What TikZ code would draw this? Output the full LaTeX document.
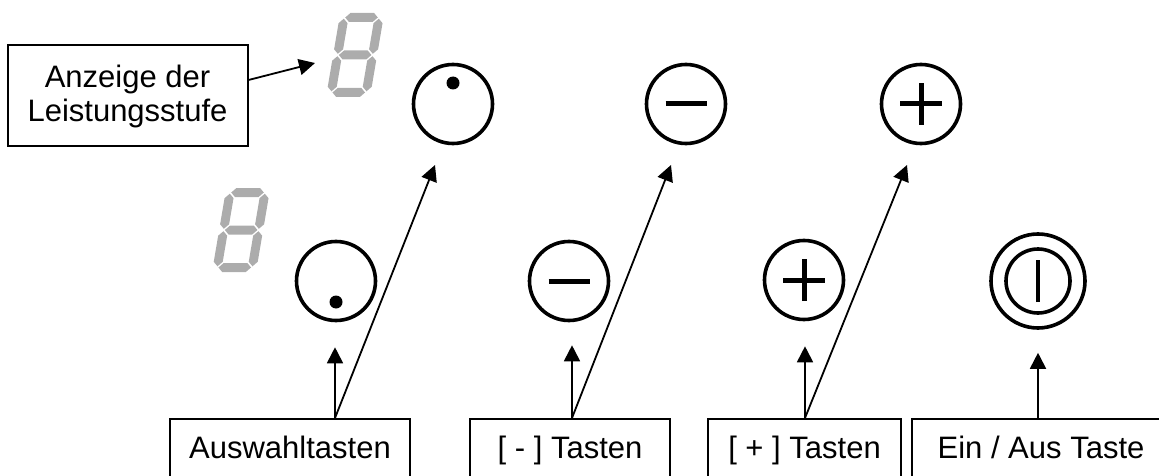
\documentclass[tikz,border=0pt]{standalone}
\usepackage{fontspec}
\setmainfont{Liberation Sans}
\usetikzlibrary{arrows.meta}
\definecolor{segcol}{RGB}{172,172,172}
\newcommand\hsegm[3]{\fill[segcol] (#1,#3) -- ({#1+4.5},{#3+4.5}) -- ({#2-4.5},{#3+4.5}) -- (#2,#3) -- ({#2-4.5},{#3-4.5}) -- ({#1+4.5},{#3-4.5}) -- cycle;}
\newcommand\vsegm[3]{\fill[segcol] (#1,#2) -- ({#1+4.5},{#2+4.5}) -- ({#1+4.5},{#3-4.5}) -- (#1,#3) -- ({#1-4.5},{#3-4.5}) -- ({#1-4.5},{#2+4.5}) -- cycle;}
\newcommand\segdigit[2]{\begin{scope}[shift={(#1,#2)}, y=1pt, xslant=0.17]
 \hsegm{5.7}{38.3}{79.5}\hsegm{5.7}{38.3}{42}\hsegm{5.7}{38.3}{4.5}
 \vsegm{4.5}{43.2}{78.3}\vsegm{4.5}{5.7}{40.8}\vsegm{39.5}{43.2}{78.3}\vsegm{39.5}{5.7}{40.8}
\end{scope}}
\begin{document}
\begin{tikzpicture}[x=1pt,y=-1pt,
  lbl/.style={draw, line width=2pt, font=\fontsize{31}{34}\selectfont, inner sep=0pt},
  bot/.style={lbl, anchor=north, text height=22pt, text depth=8pt, inner ysep=17pt},
  btn/.style={draw, circle, line width=3.6pt, minimum size=79pt, inner sep=0pt},
  bar/.style={line width=5pt},
  arr/.style={line width=1.8pt, -{Triangle[length=16pt,width=16pt]}}]
\path[use as bounding box, clip] (0,0) rectangle (1159,476);

% display label
\node[lbl, minimum width=240pt, minimum height=101pt, align=center] (disp) at (127.5,96) {Anzeige der\\Leistungsstufe};

% seven segment digits
\segdigit{326}{97}
\segdigit{212}{272}

% buttons, top row
\node[btn] (selT) at (453,104) {};
\fill ([yshift=21pt]selT.center) circle (6.5pt);
\node[btn] (minT) at (686,104) {};
\draw[bar] ([xshift=-20.5pt]minT.center) -- ([xshift=20.5pt]minT.center);
\node[btn] (plusT) at (921,104) {};
\draw[bar] ([xshift=-21pt]plusT.center) -- ([xshift=21pt]plusT.center);
\draw[bar] ([yshift=-21pt]plusT.center) -- ([yshift=21pt]plusT.center);

% buttons, bottom row
\node[btn] (selB) at (336,281) {};
\fill ([yshift=-21pt]selB.center) circle (6.5pt);
\node[btn] (minB) at (569,281) {};
\draw[bar] ([xshift=-20.5pt]minB.center) -- ([xshift=20.5pt]minB.center);
\node[btn] (plusB) at (804,280) {};
\draw[bar] ([xshift=-21pt]plusB.center) -- ([xshift=21pt]plusB.center);
\draw[bar] ([yshift=-21pt]plusB.center) -- ([yshift=21pt]plusB.center);
\node[btn, minimum size=94pt] (pwr) at (1038,281) {};
\draw[line width=3.6pt] (pwr.center) circle (32pt);
\draw[line width=4.5pt] ([yshift=-21pt]pwr.center) -- ([yshift=21pt]pwr.center);

% bottom labels
\node[bot, minimum width=240pt] (b1) at (290,418) {Auswahltasten};
\node[bot, minimum width=200pt] (b2) at (570,418) {[ - ] Tasten};
\node[bot, minimum width=193pt] (b3) at (804.5,418) {[ + ] Tasten};
\node[bot, minimum width=258pt] (b4) at (1041,418) {Ein / Aus Taste};

% connector points
\coordinate (s1) at ([xshift=45pt]b1.north);
\coordinate (s2) at ([xshift=2pt]b2.north);
\coordinate (s3) at ([xshift=0.5pt]b3.north);
\coordinate (s4) at ([xshift=-3pt]b4.north);
\coordinate (tD) at (315,63);
\coordinate (t1) at (435,165);
\coordinate (t2) at (671,165);
\coordinate (t3) at (907,165);

% connectors
\draw[arr] ([yshift=16pt]disp.east) -- (tD);
\draw[arr] (s1) -- (t1);
\draw[arr, shorten >=25pt] (s1) -- (s1 |- selB.south);
\draw[arr] (s2) -- (t2);
\draw[arr, shorten >=23pt] (s2) -- (s2 |- minB.south);
\draw[arr] (s3) -- (t3);
\draw[arr, shorten >=25pt] (s3) -- (s3 |- plusB.south);
\draw[arr, shorten >=23pt] (s4) -- (s4 |- pwr.south);
\end{tikzpicture}
\end{document}
